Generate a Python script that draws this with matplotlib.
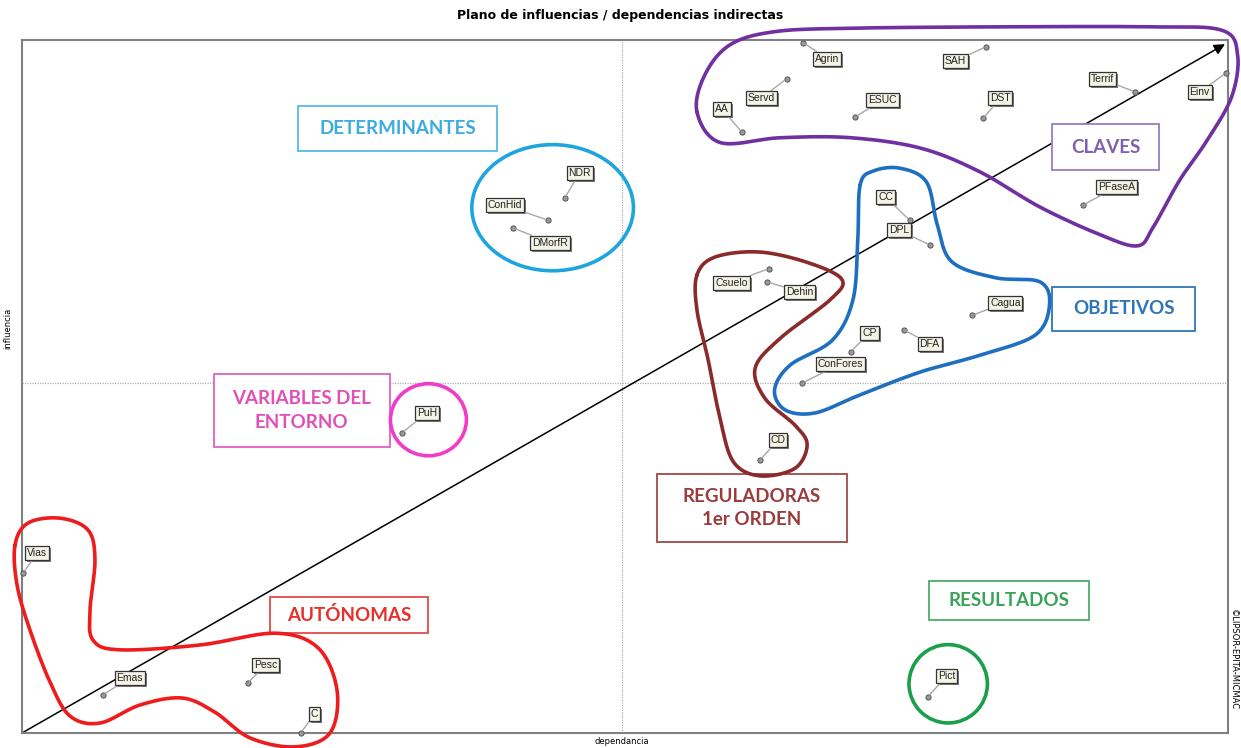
import numpy as np
import matplotlib
matplotlib.use('Agg')
import matplotlib.pyplot as plt
from matplotlib.patches import Ellipse, Rectangle

# variables: dependencia (x) / influencia (y), indirect MICMAC plane, 0-100 scale
names = ['Vias', 'Emas', 'Pesc', 'C', 'PuH', 'ConHid', 'DMorfR', 'NDR',
         'Csuelo', 'Dehin', 'CC', 'DPL', 'Cagua', 'CP', 'DFA', 'ConFores',
         'CD', 'Pict', 'Agrin', 'SAH', 'Servd', 'AA', 'ESUC', 'DST',
         'Terrif', 'Einv', 'PFaseA']
dep = [0.1, 6.7, 18.7, 23.1, 31.5, 43.6, 40.7, 45.0,
       61.9, 61.8, 73.6, 75.3, 78.8, 68.7, 73.1, 64.7,
       61.2, 75.1, 64.8, 79.9, 63.4, 59.7, 69.1, 79.7,
       92.3, 99.8, 88.0]
inf = [23.1, 5.5, 7.2, 0.0, 43.3, 74.0, 72.9, 77.2,
       67.0, 65.1, 74.0, 70.4, 60.3, 55.0, 58.2, 50.5,
       39.4, 5.2, 99.6, 99.0, 94.4, 86.7, 88.9, 88.7,
       92.5, 95.2, 76.2]
# label offsets from the point (pixels)
offs = [(14, 20), (27, 17), (18, 18), (14, 19), (25, 20), (-43, 15), (37, -15), (15, 25),
        (-37, -14), (32, -10), (-24, 23), (-31, 15), (33, 12), (19, 19), (26, -14), (38, 19),
        (18, 20), (19, 21), (24, -16), (-30, -14), (-25, -19), (-20, 23), (27, 17), (17, 20),
        (-33, 13), (-26, -19), (33, 18)]

# hand drawn groups
purple = [(55.97, 89.6), (56.6, 94.9), (58.7, 99.3), (62.4, 101.2), (68.7, 101.7), (81.1, 101.9),
          (93.5, 101.9), (99.5, 101.4), (100.8, 97.8), (100.3, 91.8), (98.3, 85.6), (96.0, 79.8),
          (93.8, 73.0), (92.5, 70.3), (89.4, 71.9), (84.4, 75.9), (79.4, 81.0), (74.5, 84.4),
          (68.7, 85.9), (62.9, 85.9), (57.9, 85.2)]
blue = [(69.5, 79.1), (70.6, 81.1), (72.8, 81.5), (75.0, 79.5), (75.9, 73.3), (77.1, 68.0),
        (80.7, 65.7), (84.4, 65.1), (85.2, 61.8), (84.0, 57.4), (79.4, 54.5), (74.5, 52.1),
        (69.5, 48.8), (65.8, 46.2), (63.3, 46.6), (62.4, 49.5), (63.7, 53.1), (67.2, 56.7),
        (68.9, 62.5), (69.3, 71.1)]
darkred = [(55.97, 66.1), (57.5, 68.7), (61.2, 69.4), (65.3, 67.8), (68.0, 65.4), (67.0, 62.5),
           (62.9, 57.0), (60.8, 52.7), (61.6, 48.3), (64.1, 44.4), (65.1, 41.6), (64.1, 38.2),
           (61.2, 37.1), (59.0, 39.1), (57.9, 45.2), (56.9, 53.8), (55.97, 61.0)]
red = [(-0.58, 27.1), (0.5, 30.3), (3.15, 31.0), (5.47, 29.3), (6.05, 25.0), (5.64, 17.7),
       (5.89, 13.4), (8.13, 12.0), (14.76, 12.7), (20.98, 14.4), (24.54, 12.3), (26.12, 6.2),
       (25.54, 0.0), (22.64, -2.0), (18.9, -0.7), (16.0, 3.0), (13.27, 5.05), (9.78, 4.04),
       (6.47, 1.44), (3.98, 2.45), (2.32, 7.36), (0.66, 14.86), (-0.41, 21.36)]


def smooth_closed(pts, n=24):
    p = np.array(pts)
    N = len(p)
    t = np.linspace(0, 1, n, endpoint=False)[:, None]
    out = []
    for i in range(N):
        p0, p1, p2, p3 = p[i - 1], p[i], p[(i + 1) % N], p[(i + 2) % N]
        seg = 0.5 * (2 * p1 + (-p0 + p2) * t + (2 * p0 - 5 * p1 + 4 * p2 - p3) * t ** 2
                     + (-p0 + 3 * p1 - 3 * p2 + p3) * t ** 3)
        out.append(seg)
    out = np.vstack(out)
    return np.vstack([out, out[:1]])


fig = plt.figure(figsize=(12.41, 7.48), dpi=100)
ax = fig.add_axes([22 / 1241, 15 / 748, 1206 / 1241, 693 / 748])
ax.set_xlim(0, 100)
ax.set_ylim(0, 100)
ax.set_xticks([])
ax.set_yticks([])
for s in ax.spines.values():
    s.set_color('#808080')
    s.set_linewidth(1.5)

ax.axvline(49.75, color='#b0b0b0', lw=0.9, ls=(0, (1, 1)), zorder=1)
ax.axhline(50.5, color='#b0b0b0', lw=0.9, ls=(0, (1, 1)), zorder=1)

ax.annotate('', xy=(99.75, 99.4), xytext=(0, 0),
            arrowprops=dict(arrowstyle='-|>', color='black', lw=1.1, mutation_scale=16,
                            shrinkA=0, shrinkB=0), zorder=2)

# points and labels
ax.scatter(dep, inf, s=14, marker='o', facecolor='#9a9a9a', edgecolor='#555555',
           linewidth=0.7, zorder=5, clip_on=False)
for nm, x, y, (dx, dy) in zip(names, dep, inf, offs):
    ax.annotate(nm, xy=(x, y), xytext=(dx + 2, dy - 2), textcoords='offset pixels',
                ha='center', va='center', fontsize=7.5, family='Liberation Sans', color='none',
                bbox=dict(boxstyle='square,pad=0.18', fc='#7a7a7a', ec='none'), zorder=6,
                annotation_clip=False)
    ax.annotate(nm, xy=(x, y), xytext=(dx, dy), textcoords='offset pixels',
                ha='center', va='center', fontsize=7.5, family='Liberation Sans', color='#222222',
                bbox=dict(boxstyle='square,pad=0.18', fc='#f3f3e6', ec='#333333', lw=0.9),
                arrowprops=dict(arrowstyle='-', color='#a8a8a8', lw=1.0, shrinkA=0, shrinkB=2),
                zorder=7, annotation_clip=False)

# group outlines
for pts, col in [(purple, '#7030a0'), (blue, '#1f6fc0'), (darkred, '#8b2a2a'), (red, '#ee1c1c')]:
    c = smooth_closed(pts)
    ax.plot(c[:, 0], c[:, 1], color=col, lw=2.6, zorder=4, clip_on=False, solid_capstyle='round')
ax.add_patch(Ellipse((44.0, 75.8), 13.4, 18.2, fill=False, ec='#1ea5e0', lw=2.6, zorder=4))
ax.add_patch(Ellipse((33.7, 45.2), 6.3, 10.4, fill=False, ec='#f03cc8', lw=2.6, zorder=4))
ax.add_patch(Ellipse((76.8, 7.1), 6.5, 11.3, fill=False, ec='#1a9f4a', lw=2.6, zorder=4))

# group captions
boxes = [
    ('DETERMINANTES', 22.9, 84.0, 39.4, 90.5, '#55bce4', '#3aacdf'),
    ('CLAVES', 85.4, 81.2, 94.3, 87.9, '#9a7cc4', '#7f5fae'),
    ('OBJETIVOS', 85.4, 58.0, 97.3, 64.4, '#2e75b6', '#2e75b6'),
    ('VARIABLES DEL\nENTORNO', 15.9, 41.3, 30.5, 51.8, '#e060c0', '#e050b8'),
    ('REGULADORAS\n1er ORDEN', 52.65, 27.6, 68.4, 37.4, '#a04848', '#9b3c3c'),
    ('AUTÓNOMAS', 20.6, 14.4, 33.7, 19.6, '#e04a4a', '#e8302a'),
    ('RESULTADOS', 75.2, 16.3, 88.5, 21.9, '#4aae6a', '#3aa35a'),
]
for txt, x0, y0, x1, y1, ec, tc in boxes:
    ax.add_patch(Rectangle((x0, y0), x1 - x0, y1 - y0, fill=True, fc='white', ec=ec,
                           lw=1.3, zorder=3))
    ax.text((x0 + x1) / 2, (y0 + y1) / 2, txt, ha='center', va='center', fontsize=13.5,
            fontweight='bold', family='Lato', color=tc, linespacing=1.45, zorder=3)

fig.text(0.4996, 0.979, 'Plano de influencias / dependencias indirectas', ha='center',
         va='center', fontsize=9, fontweight='bold')
fig.text(0.5012, 0.009, 'dependancia', ha='center', va='center', fontsize=6)
fig.text(0.0064, 0.561, 'influencia', ha='center', va='center', fontsize=6, rotation=90)
fig.text(0.9936, 0.118, '©LIPSOR-EPITA-MICMAC', ha='center', va='center', fontsize=6,
         rotation=-90)

fig.savefig('out.png', dpi=100)
